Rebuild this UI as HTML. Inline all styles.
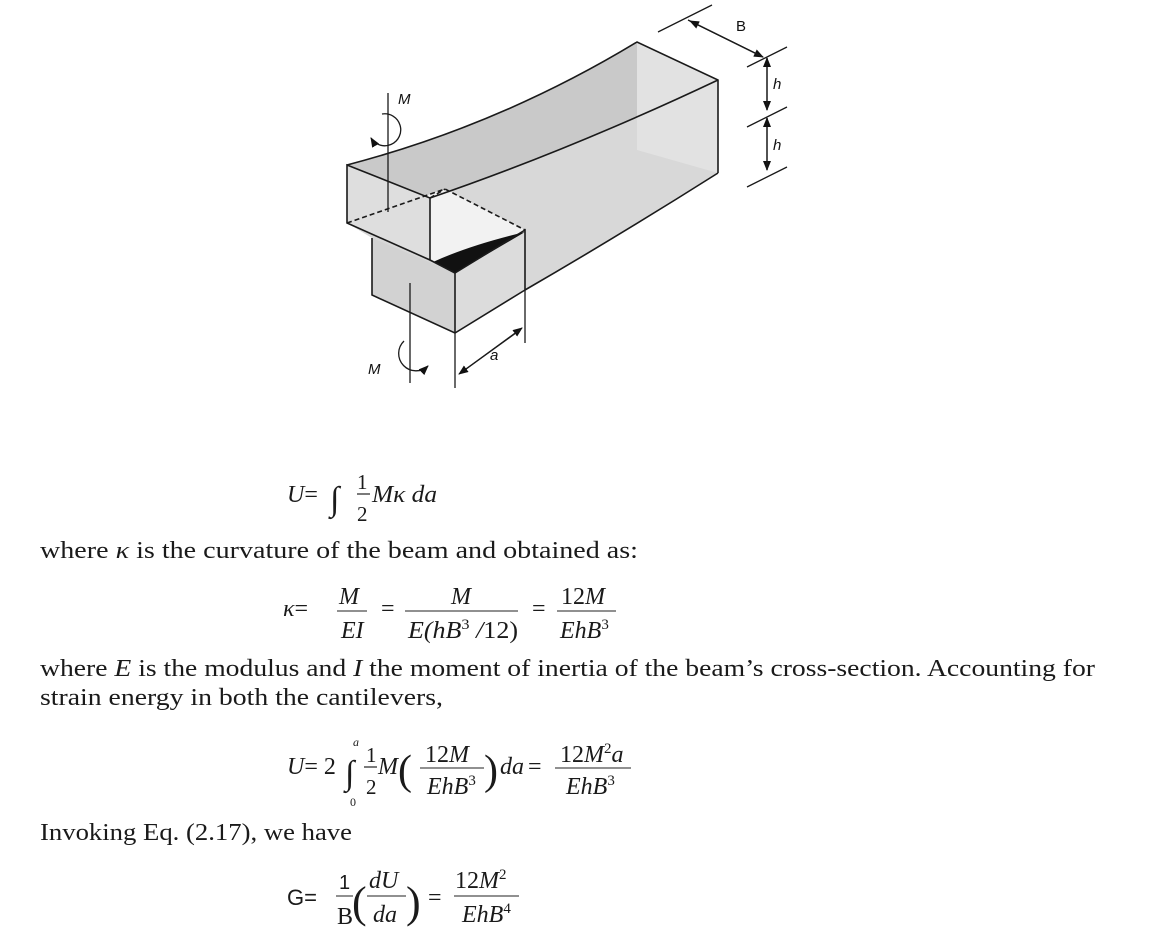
<!DOCTYPE html>
<html><head><meta charset="utf-8"><style>
html,body{margin:0;padding:0;background:#fff;}
svg{display:block;}
.t{font-family:"Liberation Serif",serif;font-size:24px;fill:#1a1a1a;}
.i{font-style:italic;}
.s{font-family:"Liberation Sans",sans-serif;font-style:italic;font-size:15px;fill:#111;}
</style></head><body>
<svg width="1153" height="952" viewBox="0 0 1153 952" xmlns="http://www.w3.org/2000/svg">
<defs>
<marker id="ar" markerWidth="10" markerHeight="8" refX="9" refY="4" orient="auto" markerUnits="userSpaceOnUse"><path d="M0,0 L10,4 L0,8 Z" fill="#111"/></marker>
</defs>
<!-- body -->
<path d="M347,165 Q500,125 637,42 L718,80 L718,173 Q620,235 525,290 L455,333 L372,295 L372,238 L347,223 Z" fill="#d8d8d8"/>
<path d="M347,165 Q500,125 637,42 L718,80 Q570,150 430,198 Z" fill="#c9c9c9"/>
<path d="M637,42 L718,80 L718,173 L637,150 Z" fill="#e2e2e2"/>
<path d="M347,223 L445,189 L525,230 L455,273 L430,260 Z" fill="#f2f2f2"/>
<path d="M347,165 L430,198 L430,260 L347,223 Z" fill="#dedede"/>
<path d="M372,238 L455,273 L455,333 L372,295 Z" fill="#d2d2d2"/>
<path d="M455,273 L525,230 L525,290 L455,333 Z" fill="#dcdcdc"/>
<path d="M433,262 L455,273 L525,232 Q470,245 433,262 Z" fill="#111"/>
<g fill="none" stroke="#1a1a1a" stroke-width="1.6">
<path d="M347,165 Q500,125 637,42 L718,80 L718,173"/>
<path d="M430,198 Q570,150 718,80"/>
<path d="M347,165 L430,198 L430,260 L347,223 Z"/>
<path d="M372,238 L372,295 L455,333 L525,290 Q620,235 718,173"/>
<path d="M455,273 L455,333"/><path d="M455,273 L525,230 L525,290"/>
<path d="M430,260 L455,273"/>
<path d="M347,223 L445,189 L525,230" stroke-dasharray="5,3"/>
<path d="M430,198 L445,189" stroke-dasharray="5,3"/>
</g>
<!-- moments -->
<g fill="none" stroke="#1a1a1a" stroke-width="1.3">
<line x1="388" y1="93" x2="388" y2="212"/>
<path d="M382,114 A16,16 0 1 1 371,138" marker-end="url(#ar)"/>
<line x1="410" y1="283" x2="410" y2="383"/>
<path d="M404,341 A14,14 0 1 0 428,366" marker-end="url(#ar)"/>
<line x1="455" y1="333" x2="455" y2="388"/>
<line x1="525" y1="290" x2="525" y2="343"/>
<line x1="462" y1="372" x2="522" y2="328" marker-end="url(#ar)"/>
<line x1="520" y1="330" x2="459" y2="374" marker-end="url(#ar)"/>
<line x1="658" y1="32" x2="712" y2="5"/>
<line x1="747" y1="67" x2="787" y2="47"/>
<line x1="747" y1="127" x2="787" y2="107"/>
<line x1="747" y1="187" x2="787" y2="167"/>
<line x1="688" y1="20" x2="763" y2="57" marker-end="url(#ar)"/>
<line x1="763" y1="57" x2="690" y2="21" marker-end="url(#ar)"/>
<line x1="767" y1="58" x2="767" y2="110" marker-end="url(#ar)"/>
<line x1="767" y1="110" x2="767" y2="58" marker-end="url(#ar)"/>
<line x1="767" y1="118" x2="767" y2="170" marker-end="url(#ar)"/>
<line x1="767" y1="170" x2="767" y2="118" marker-end="url(#ar)"/>
</g>
<text class="s" x="398" y="104">M</text>
<text class="s" x="368" y="374">M</text>
<text class="s" x="490" y="360">a</text>
<text class="s" x="736" y="31" style="font-style:normal">B</text>
<text class="s" x="773" y="89">h</text>
<text class="s" x="773" y="150">h</text>

<!-- equations -->
<g class="t">
<text class="i" x="287" y="502">U<tspan font-style="normal">=</tspan></text>
<text x="330" y="510" font-size="34">∫</text>
<text x="357" y="489" font-size="21">1</text>
<line x1="357" y1="494" x2="370" y2="494" stroke="#222" stroke-width="1.2"/>
<text x="357" y="521" font-size="21">2</text>
<text class="i" x="372" y="502" textLength="65" lengthAdjust="spacingAndGlyphs">Mκ da</text>

<text x="40" y="558" textLength="598" lengthAdjust="spacingAndGlyphs">where <tspan class="i">κ</tspan> is the curvature of the beam and obtained as:</text>

<text class="i" x="283" y="616">κ<tspan font-style="normal">=</tspan></text>
<text class="i" x="339" y="604">M</text>
<line x1="337" y1="611" x2="367" y2="611" stroke="#222" stroke-width="1"/>
<text class="i" x="341" y="638">EI</text>
<text x="381" y="616">=</text>
<text class="i" x="451" y="604">M</text>
<line x1="405" y1="611" x2="518" y2="611" stroke="#222" stroke-width="1"/>
<text class="i" x="408" y="638" textLength="110" lengthAdjust="spacingAndGlyphs">E(hB<tspan font-size="15" dy="-9" font-style="normal">3</tspan><tspan dy="9"> /</tspan><tspan font-style="normal">12)</tspan></text>
<text x="532" y="616">=</text>
<text x="561" y="604">12<tspan class="i">M</tspan></text>
<line x1="557" y1="611" x2="616" y2="611" stroke="#222" stroke-width="1"/>
<text class="i" x="560" y="638">EhB<tspan font-size="15" dy="-9" font-style="normal">3</tspan></text>

<text x="40" y="676" textLength="1055" lengthAdjust="spacingAndGlyphs">where <tspan class="i">E</tspan> is the modulus  and <tspan class="i">I</tspan> the moment of inertia of the beam’s cross-section. Accounting for</text>
<text x="40" y="705" textLength="403" lengthAdjust="spacingAndGlyphs">strain energy in both the cantilevers,</text>

<text class="i" x="287" y="774">U<tspan font-style="normal">= 2</tspan></text>
<text x="345" y="784" font-size="34">∫</text>
<text class="i" x="353" y="746" font-size="12">a</text>
<text x="350" y="806" font-size="12">0</text>
<text x="366" y="762" font-size="21">1</text>
<line x1="364" y1="767" x2="377" y2="767" stroke="#222" stroke-width="1.2"/>
<text x="366" y="794" font-size="21">2</text>
<text class="i" x="378" y="774">M</text>
<text x="398" y="784" font-size="42">(</text>
<text x="425" y="762">12<tspan class="i">M</tspan></text>
<line x1="420" y1="768" x2="484" y2="768" stroke="#222" stroke-width="1"/>
<text class="i" x="427" y="794">EhB<tspan font-size="15" dy="-9" font-style="normal">3</tspan></text>
<text x="484" y="784" font-size="42">)</text>
<text class="i" x="500" y="774">da</text>
<text x="528" y="774">=</text>
<text x="560" y="762">12<tspan class="i">M</tspan><tspan font-size="15" dy="-9">2</tspan><tspan class="i" dy="9">a</tspan></text>
<line x1="555" y1="768" x2="631" y2="768" stroke="#222" stroke-width="1"/>
<text class="i" x="566" y="794">EhB<tspan font-size="15" dy="-9" font-style="normal">3</tspan></text>

<text x="40" y="840" textLength="312" lengthAdjust="spacingAndGlyphs">Invoking Eq. (2.17), we have</text>

<text x="287" y="905" font-family="Liberation Sans" font-size="22">G<tspan>=</tspan></text>
<text x="339" y="889" font-family="Liberation Sans" font-size="20">1</text>
<line x1="336" y1="896" x2="353" y2="896" stroke="#222" stroke-width="1"/>
<text x="337" y="924">B</text>
<text x="352" y="917" font-size="44">(</text>
<text class="i" x="369" y="888">dU</text>
<line x1="367" y1="896" x2="406" y2="896" stroke="#222" stroke-width="1"/>
<text class="i" x="373" y="922">da</text>
<text x="406" y="917" font-size="44">)</text>
<text x="428" y="905">=</text>
<text x="455" y="888">12<tspan class="i">M</tspan><tspan font-size="15" dy="-9">2</tspan></text>
<line x1="454" y1="896" x2="519" y2="896" stroke="#222" stroke-width="1"/>
<text class="i" x="462" y="922">EhB<tspan font-size="15" dy="-9" font-style="normal">4</tspan></text>
</g>
</svg>
</body></html>
